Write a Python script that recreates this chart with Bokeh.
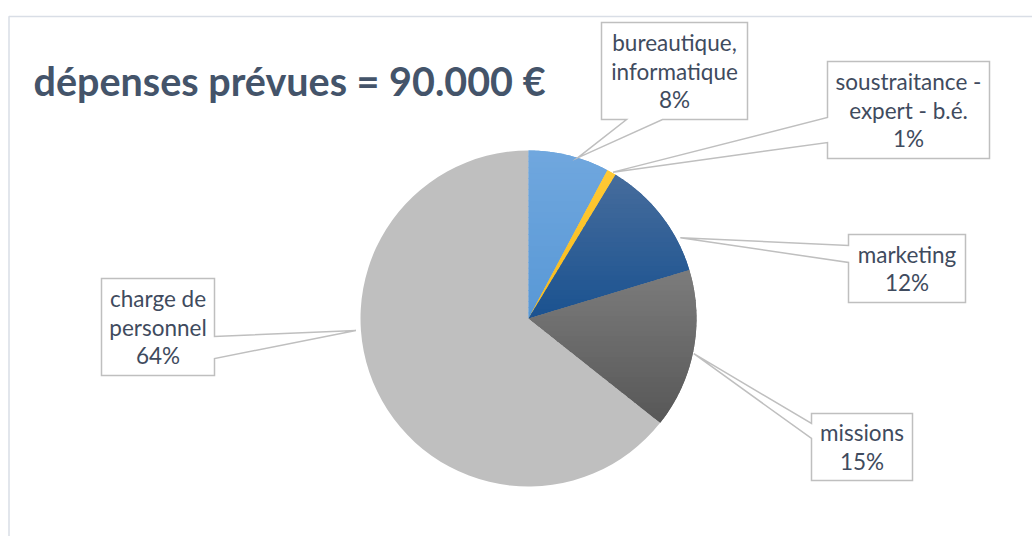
import numpy as np
from bokeh.plotting import figure
from bokeh.models import Range1d
from bokeh.embed import file_html
from bokeh.resources import INLINE
from bokeh.core.properties import value

# ---------------- data ----------------
categories = ["bureautique, informatique", "soustraitance - expert - b.é.",
              "marketing", "missions", "charge de personnel"]
label_lines = [["bureautique,", "informatique"], ["soustraitance -", "expert - b.é."],
               ["marketing"], ["missions"], ["charge de", "personnel"]]
amounts = [7000, 800, 10500, 13800, 57900]   # € , total 90.000

# ---------------- styles / layout ----------------
color_top = ["#70a7de", "#ffc935", "#466c9c", "#7c7c7c", "#bfbfbf"]
color_bot = ["#5898d6", "#f7bb1c", "#1a5290", "#575757", "#bfbfbf"]
TITLE_COLOR = "#44546a"
LABEL_COLOR = "#3f4b5e"
BOX_LINE = "#bfbfbf"
FRAME_LINE = "#d9dee6"

W, H = 1032, 536
def px(X):  # page pixel -> data x
    return X
def py(Y):  # page pixel -> data y
    return H - Y

CX, CY, R = px(528), py(318), 168

boxes = [(601, 22, 747, 119), (827, 61, 989, 158), (848, 234, 965, 302),
         (811, 413, 912, 480), (101, 278, 214, 375)]
pointer_side = ["bottom", "left", "left", "left", "right"]
pointer_base = [(626, 662), (117, 142), (245, 262), (423, 438), (336, 358)]
tip_angle_deg = [17, 30, 62, 102, 266]
tip_radius = [168, 169, 172, 169, 173]
LINE_SP = 28.5

# ---------------- figure ----------------
p = figure(width=W, height=H, x_range=Range1d(0, W), y_range=Range1d(0, H),
           output_backend="svg", toolbar_location=None, min_border=0)
p.axis.visible = False
p.grid.visible = False
p.outline_line_color = None
p.background_fill_color = "white"
p.border_fill_color = "white"

# chart-area frame (top and left edges visible)
p.line([W, px(8.5), px(8.5)], [py(16), py(16), 0], line_color=FRAME_LINE, line_width=1.5)

# ---------------- pie ----------------
total = float(sum(amounts))
fracs = np.array(amounts) / total
cum = np.concatenate([[0.0], np.cumsum(fracs)])
a0 = 2 * np.pi * cum[:-1]    # clockwise from 12 o'clock
a1 = 2 * np.pi * cum[1:]

def mix(c1, c2, t):
    h1 = [int(c1[i:i + 2], 16) for i in (1, 3, 5)]
    h2 = [int(c2[i:i + 2], 16) for i in (1, 3, 5)]
    return "#%02x%02x%02x" % tuple(int(round(h1[k] * (1 - t) + h2[k] * t)) for k in range(3))

base_colors = [mix(color_top[i], color_bot[i], 0.5) for i in range(len(amounts))]
p.wedge(x=[CX] * len(amounts), y=[CY] * len(amounts), radius=R,
        start_angle=list(np.pi / 2 - a0), end_angle=list(np.pi / 2 - a1),
        direction="clock", fill_color=base_colors, line_color=None)

def clip_half(pts, keep, yb):
    out = []
    n = len(pts)
    for i in range(n):
        P = pts[i]; Q = pts[(i + 1) % n]
        pin, qin = keep(P[1]), keep(Q[1])
        if pin:
            out.append(P)
        if pin != qin:
            t = (yb - P[1]) / (Q[1] - P[1])
            out.append((P[0] + t * (Q[0] - P[0]), yb))
    return out

sx, sy, sc = [], [], []
for i in range(len(amounts)):
    if fracs[i] >= 0.5 or color_top[i] == color_bot[i]:
        continue
    angs = np.linspace(a0[i], a1[i], 80)
    poly = [(CX, CY)] + [(CX + R * np.sin(a), CY + R * np.cos(a)) for a in angs]
    ys = [q[1] for q in poly]
    ytop, ybot = max(ys), min(ys)
    nstrip = 30
    edges = np.linspace(ybot, ytop, nstrip + 1)
    for k in range(nstrip):
        y0, y1 = edges[k] - 0.4, edges[k + 1] + 0.4
        pts = clip_half(poly, lambda y: y >= y0, y0)
        if pts:
            pts = clip_half(pts, lambda y: y <= y1, y1)
        if len(pts) < 3:
            continue
        t = (ytop - 0.5 * (edges[k] + edges[k + 1])) / (ytop - ybot)
        sx.append([q[0] for q in pts]); sy.append([q[1] for q in pts])
        sc.append(mix(color_top[i], color_bot[i], t))
p.patches(sx, sy, fill_color=sc, line_color=None)

# ---------------- callouts ----------------
cxs, cys = [], []
for i in range(len(amounts)):
    L, T, Rr, B = boxes[i]
    a = np.deg2rad(tip_angle_deg[i])
    tx, ty = CX + tip_radius[i] * np.sin(a), CY + tip_radius[i] * np.cos(a)
    b1, b2 = pointer_base[i]
    s = pointer_side[i]
    if s == "bottom":
        pts = [(px(L), py(T)), (px(Rr), py(T)), (px(Rr), py(B)), (px(b2), py(B)),
               (tx, ty), (px(b1), py(B)), (px(L), py(B))]
    elif s == "left":
        pts = [(px(L), py(T)), (px(Rr), py(T)), (px(Rr), py(B)), (px(L), py(B)),
               (px(L), py(b2)), (tx, ty), (px(L), py(b1))]
    else:
        pts = [(px(L), py(T)), (px(Rr), py(T)), (px(Rr), py(b1)), (tx, ty),
               (px(Rr), py(b2)), (px(Rr), py(B)), (px(L), py(B))]
    cxs.append([q[0] for q in pts]); cys.append([q[1] for q in pts])
p.patches(cxs, cys, fill_color="white", line_color=BOX_LINE, line_width=1.5,
          line_join="miter")

tx_, ty_, tt_ = [], [], []
for i in range(len(amounts)):
    L, T, Rr, B = boxes[i]
    lines = label_lines[i] + ["%d%%" % round(fracs[i] * 100)]
    cxp = 0.5 * (L + Rr)
    cyp = 0.5 * (T + B)
    n = len(lines)
    for j, s in enumerate(lines):
        tx_.append(px(cxp))
        ty_.append(py(cyp + (j - (n - 1) / 2) * LINE_SP))
        tt_.append(s)
p.text(tx_, ty_, text=tt_, text_font=value("Lato"), text_font_size="22.5px",
       text_color=LABEL_COLOR, text_align="center", text_baseline="middle")

# ---------------- title ----------------
title = "dépenses prévues = " + f"{int(total):,}".replace(",", ".") + " €"
p.text([px(33)], [py(80)], text=[title], text_font=value("Lato"),
       text_font_size="39.5px", text_font_style="bold", text_color=TITLE_COLOR,
       text_align="left", text_baseline="middle")

open("out.html", "w").write(file_html(p, INLINE))
